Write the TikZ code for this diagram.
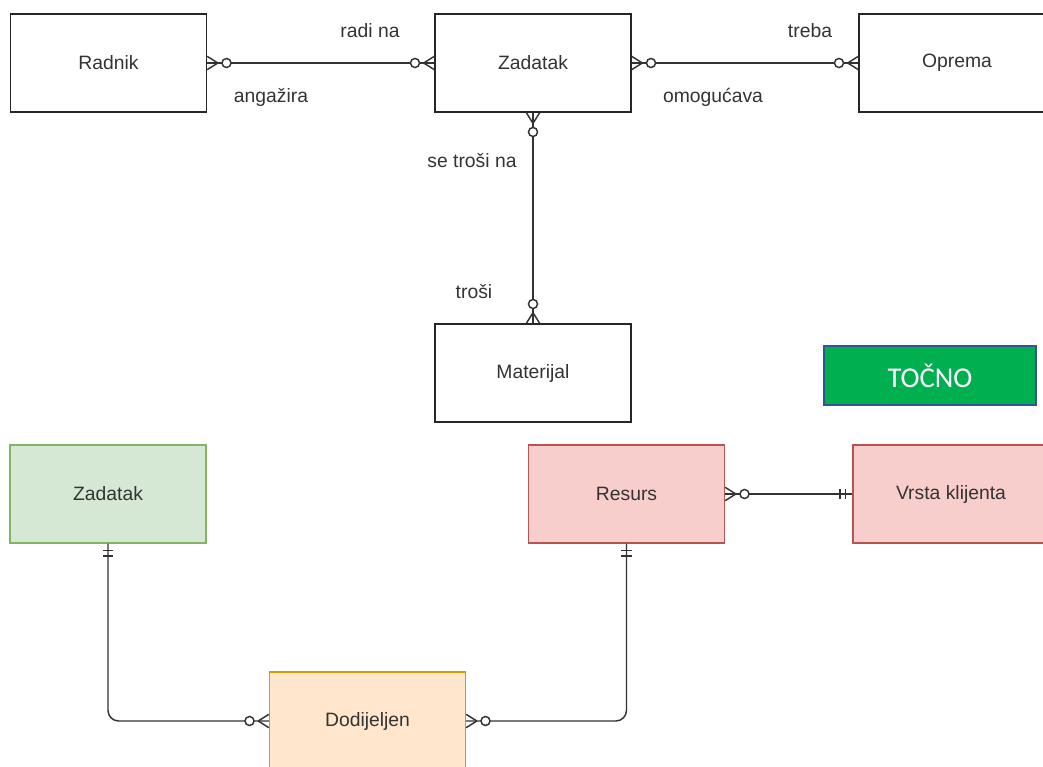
\documentclass[tikz,border=0pt]{standalone}
\usepackage{fontspec}
\setmainfont{Liberation Sans}
\newfontfamily\calib{Carlito}
\usepackage{xcolor}
\usetikzlibrary{decorations.markings}

\definecolor{txt}{HTML}{333333}
\definecolor{zfill}{HTML}{D5E8D4}
\definecolor{zdraw}{HTML}{82B366}
\definecolor{rfill}{HTML}{F8CECC}
\definecolor{rdraw}{HTML}{B85450}
\definecolor{dfill}{HTML}{FFE6CC}
\definecolor{ddraw}{HTML}{D79B00}
\definecolor{okfill}{HTML}{00B050}
\definecolor{okdraw}{HTML}{2F5597}

\tikzset{
  entity/.style={rectangle, draw=black!85, line width=1pt, minimum width=147pt,
    minimum height=73.5pt, text=txt, font=\fontsize{14.5}{17}\selectfont},
  lbl/.style={text=txt, inner sep=0pt, font=\fontsize{14.5}{17}\selectfont},
  rel/.style={draw=txt, line width=1.1pt},
  many opt end/.style={postaction={decorate, decoration={markings, mark=at position 1 with {
    \draw[rel] (-8pt,0pt) -- (0pt,5pt) (-8pt,0pt) -- (0pt,-5pt);
    \draw[rel, fill=white] (-14.5pt,0pt) circle[radius=3.4pt];}}}},
  many opt start/.style={postaction={decorate, decoration={markings, mark=at position 0 with {
    \draw[rel] (8pt,0pt) -- (0pt,5pt) (8pt,0pt) -- (0pt,-5pt);
    \draw[rel, fill=white] (14.5pt,0pt) circle[radius=3.4pt];}}}},
  one only end/.style={postaction={decorate, decoration={markings, mark=at position 1 with {
    \draw[rel] (-5.2pt,4pt) -- (-5.2pt,-4pt) (-9.4pt,4pt) -- (-9.4pt,-4pt);}}}},
  one only start/.style={postaction={decorate, decoration={markings, mark=at position 0 with {
    \draw[rel] (5.2pt,4pt) -- (5.2pt,-4pt) (9.4pt,4pt) -- (9.4pt,-4pt);}}}}
}

\begin{document}
\begin{tikzpicture}[x=0.75pt, y=-0.75pt]
\useasboundingbox (0,0) rectangle (1043,767);
\clip (0,0) rectangle (1043,767);

\node[entity] (radnik) at (108.5,63) {Radnik};
\node[entity] (zadatak) at (533,63) {Zadatak};
\node[entity] (oprema) at (957,63) {Oprema};
\node[entity] (materijal) at (533,373) {Materijal};

\node[entity, fill=zfill, draw=zdraw] (zadatakB) at (108,494) {Zadatak};
\node[entity, fill=rfill, draw=rdraw] (resurs) at (626.5,494) {Resurs};
\node[entity, fill=rfill, draw=rdraw] (vrsta) at (951,494) {Vrsta klijenta};
\node[entity, fill=dfill, draw=ddraw] (dodijeljen) at (367.5,721) {Dodijeljen};

\node[rectangle, fill=okfill, draw=okdraw, line width=1.5pt, minimum width=159pt,
  minimum height=44.25pt, text=white, font=\calib\fontsize{21.5}{24}\selectfont] (tocno) at (930,375.5) {TOČNO};

\draw[rel, many opt start, many opt end] (radnik) -- (zadatak);
\draw[rel, many opt start, many opt end] (zadatak) -- (oprema);
\draw[rel, many opt start, many opt end] (zadatak) -- (materijal);
\draw[rel, many opt start, one only end] (resurs) -- (vrsta);
\draw[rel, rounded corners=8pt, one only start, many opt end] (zadatakB.south) |- (dodijeljen.west);
\draw[rel, rounded corners=8pt, one only start, many opt end] (resurs.south) |- (dodijeljen.east);

\node[lbl] (radina) at (370,31) {radi na};
\node[lbl] (angazira) at (271,97) {angažira};
\node[lbl] (treba) at (810,31) {treba};
\node[lbl] (omogucava) at (713,97) {omogućava};
\node[lbl] (setrosina) at (472,161) {se troši na};
\node[lbl] (trosi) at (474,292) {troši};
\end{tikzpicture}
\end{document}
